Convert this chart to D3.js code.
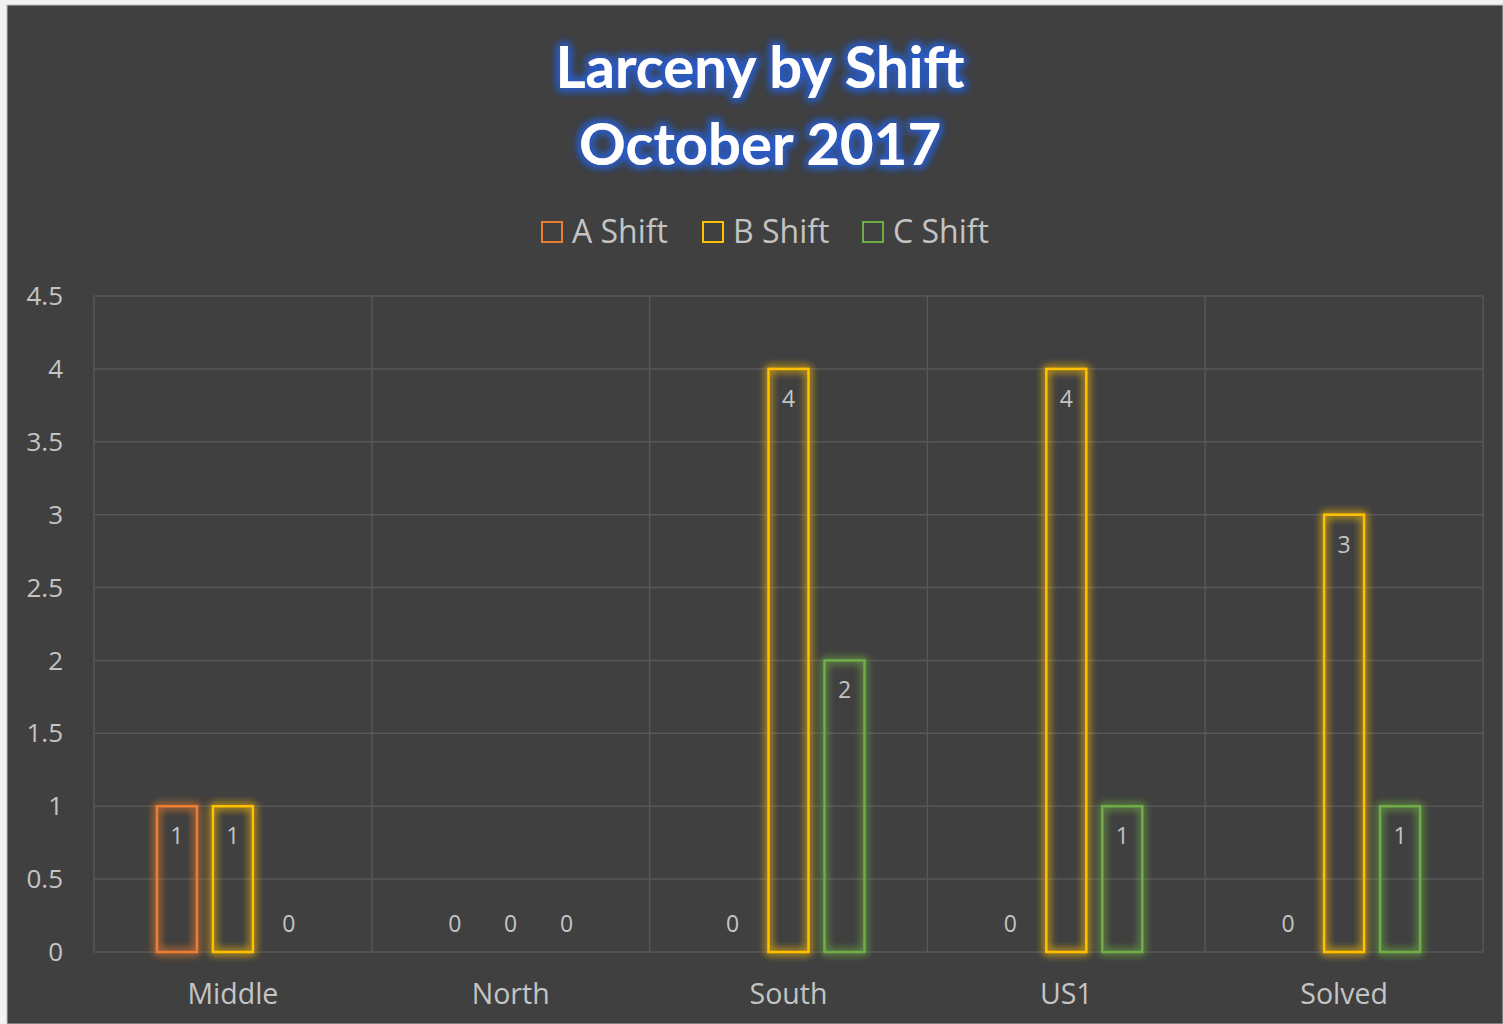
<!DOCTYPE html>
<html>
<head>
<meta charset="utf-8">
<script src="https://cdn.jsdelivr.net/npm/d3@7"></script>
<style>
  body { margin: 0; background: #f2f2f2; }
  svg { display: block; }
</style>
</head>
<body>
<div id="chart"></div>
<script>
// data
const categories = ["Middle", "North", "South", "US1", "Solved"]
const seriesNames = ["A Shift", "B Shift", "C Shift"]
const aShift = [1, 0, 0, 0, 0]
const bShift = [1, 0, 4, 4, 3]
const cShift = [0, 0, 2, 1, 1]
const yTicks = [0, 0.5, 1, 1.5, 2, 2.5, 3, 3.5, 4, 4.5]

const colors = ["#ED7D31", "#FFC000", "#70AD47"]
const textColor = "#c4c4c4"
const font = "'Open Sans', 'Noto Sans', sans-serif"

const W = 1503, H = 1024
const margin = { left: 94, right: 20, top: 296, bottom: 72 }

const svg = d3.select("#chart").append("svg")
    .attr("width", W)
    .attr("height", H)

const defs = svg.append("defs")

// title glow
const tf = defs.append("filter").attr("id", "titleGlow")
    .attr("x", "-20%").attr("y", "-40%").attr("width", "140%").attr("height", "180%")
tf.append("feMorphology").attr("in", "SourceAlpha").attr("operator", "dilate").attr("radius", 2).attr("result", "d")
tf.append("feGaussianBlur").attr("in", "d").attr("stdDeviation", 4).attr("result", "b")
tf.append("feFlood").attr("flood-color", "#2a5bc4").attr("flood-opacity", 1)
tf.append("feComposite").attr("in2", "b").attr("operator", "in").attr("result", "g")
const tm = tf.append("feMerge")
tm.append("feMergeNode").attr("in", "g")
tm.append("feMergeNode").attr("in", "g")
tm.append("feMergeNode").attr("in", "SourceGraphic")

// bar glow
const bf = defs.append("filter").attr("id", "barGlow")
    .attr("x", "-50%").attr("y", "-20%").attr("width", "200%").attr("height", "140%")
bf.append("feGaussianBlur").attr("in", "SourceGraphic").attr("stdDeviation", 4).attr("result", "b")
const bm = bf.append("feMerge")
bm.append("feMergeNode").attr("in", "b")
bm.append("feMergeNode").attr("in", "b")
bm.append("feMergeNode").attr("in", "SourceGraphic")

// frame
svg.append("rect").attr("x", 0).attr("y", 0).attr("width", W).attr("height", H).attr("fill", "#f2f2f2")
svg.append("rect").attr("x", 7).attr("y", 5).attr("width", W - 7).attr("height", H - 5)
    .attr("fill", "#404040").attr("stroke", "#bdbdbd").attr("stroke-width", 1)

const x0 = d3.scaleBand().domain(categories).range([margin.left, W - margin.right]).padding(0)
const y = d3.scaleLinear().domain([0, 4.5]).range([H - margin.bottom, margin.top])
const groupW = x0.bandwidth() * 0.547
const x1 = d3.scaleBand().domain(seriesNames)
    .range([(x0.bandwidth() - groupW) / 2, (x0.bandwidth() + groupW) / 2])
    .paddingInner(0.2857).paddingOuter(0)

// grid
const grid = svg.append("g")
grid.selectAll(".hg").data(yTicks).enter().append("line")
    .attr("x1", margin.left).attr("x2", W - margin.right)
    .attr("y1", d => y(d)).attr("y2", d => y(d))
    .attr("stroke", "#575757").attr("stroke-width", 1.5)
const bounds = categories.map(c => x0(c)).concat([x0(categories[categories.length - 1]) + x0.bandwidth()])
grid.selectAll(".vg").data(bounds).enter().append("line")
    .attr("x1", d => d).attr("x2", d => d)
    .attr("y1", y(4.5)).attr("y2", y(0))
    .attr("stroke", "#575757").attr("stroke-width", 1.5)

// y axis labels
svg.append("g").selectAll("text").data(yTicks).enter().append("text")
    .attr("x", 63).attr("y", d => y(d)).attr("dy", "0.35em")
    .attr("text-anchor", "end")
    .attr("fill", textColor).style("font-family", font).style("font-size", "26px")
    .text(d => d)

// x axis labels
svg.append("g").selectAll("text").data(categories).enter().append("text")
    .attr("x", d => x0(d) + x0.bandwidth() / 2).attr("y", 1004)
    .attr("text-anchor", "middle")
    .attr("fill", textColor).style("font-family", font).style("font-size", "28.5px")
    .text(d => d)

// bars
const series = [aShift, bShift, cShift]
const rows = []
categories.forEach((c, i) => {
    seriesNames.forEach((s, j) => rows.push({ cat: c, name: s, value: series[j][i], color: colors[j] }))
})

const bars = svg.append("g")
bars.selectAll("rect").data(rows.filter(d => d.value > 0)).enter().append("rect")
    .attr("x", d => x0(d.cat) + x1(d.name))
    .attr("y", d => y(d.value))
    .attr("width", x1.bandwidth())
    .attr("height", d => y(0) - y(d.value))
    .attr("fill", "none")
    .attr("stroke", d => d.color)
    .attr("stroke-width", 2.5)
    .attr("filter", "url(#barGlow)")

// data labels
svg.append("g").selectAll("text").data(rows).enter().append("text")
    .attr("x", d => x0(d.cat) + x1(d.name) + x1.bandwidth() / 2)
    .attr("y", d => d.value > 0 ? y(d.value) + 38 : y(0) - 20)
    .attr("text-anchor", "middle")
    .attr("fill", textColor).style("font-family", font).style("font-size", "23px")
    .text(d => d.value)

// legend
const legendX = [542, 703, 863]
const legend = svg.append("g").selectAll("g").data(seriesNames).enter().append("g")
    .attr("transform", (d, i) => `translate(${legendX[i]},222)`)
legend.append("rect")
    .attr("width", 20).attr("height", 20)
    .attr("fill", "none")
    .attr("stroke", (d, i) => colors[i]).attr("stroke-width", 2)
legend.append("text")
    .attr("x", 30).attr("y", 21)
    .attr("fill", textColor).style("font-family", font).style("font-size", "32px")
    .text(d => d)

// title
const title = svg.append("text")
    .attr("text-anchor", "middle")
    .attr("fill", "#ffffff")
    .style("font-family", "Lato, 'Open Sans', sans-serif")
    .style("font-weight", "bold")
    .style("font-size", "58px")
    .attr("filter", "url(#titleGlow)")
title.append("tspan").attr("x", 760).attr("y", 88).text("Larceny by Shift")
title.append("tspan").attr("x", 760).attr("y", 165).text("October 2017")
</script>
</body>
</html>
